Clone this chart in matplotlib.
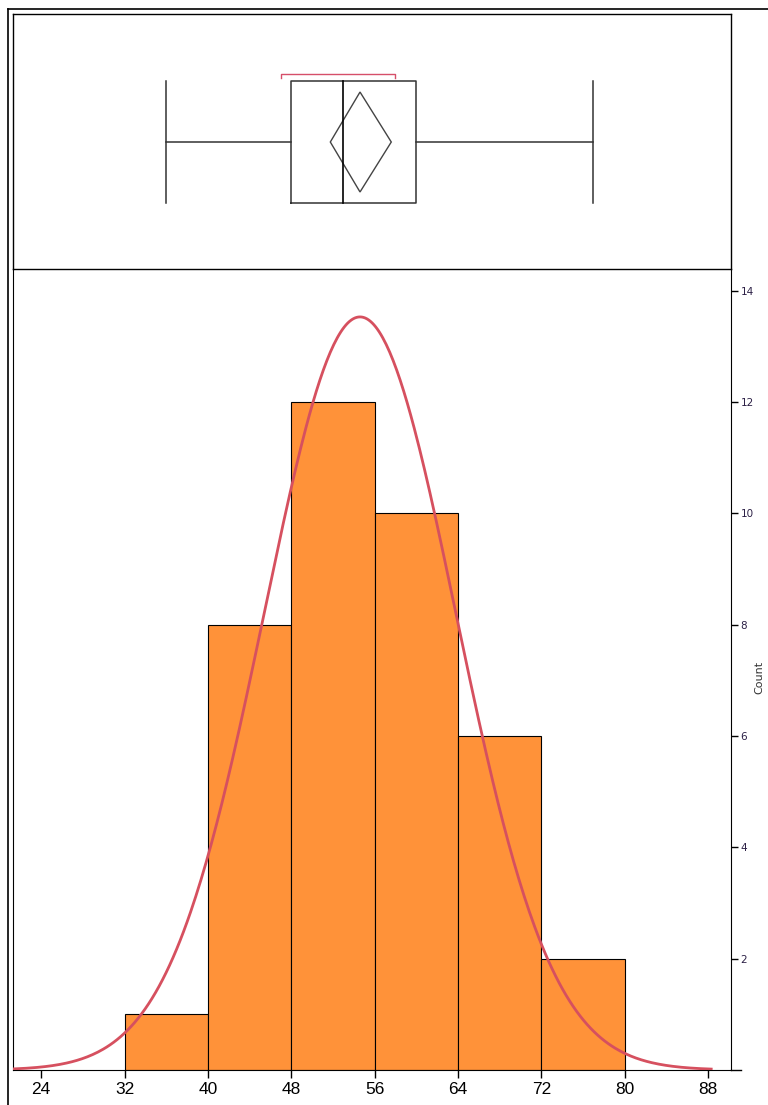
import numpy as np
import matplotlib.pyplot as plt
from matplotlib.lines import Line2D
from matplotlib.patches import Polygon

# histogram of the sample
bin_edges = [32, 40, 48, 56, 64, 72, 80]
counts = [1, 8, 12, 10, 6, 2]
n_obs = sum(counts)

# summary statistics
mean, sd = 54.6, 9.2
whisker_lo, q1, median, q3, whisker_hi = 36, 48, 53, 60, 77
ci_lo, ci_hi = 51.75, 57.6
short_lo, short_hi = 47, 58

xticks = [24, 32, 40, 48, 56, 64, 72, 80, 88]
yticks = [2, 4, 6, 8, 10, 12, 14]
xlim = (21.3, 90.2)

W, H = 768, 1105
fig = plt.figure(figsize=(W / 100, H / 100), dpi=100)

def box(x0, y0, x1, y1):
    return [x0 / W, 1 - y1 / H, (x1 - x0) / W, (y1 - y0) / H]

# outer frame lines
fig.add_artist(Line2D([8 / W, 1], [1 - 9 / H, 1 - 9 / H], color='black', lw=1.2))
fig.add_artist(Line2D([8 / W, 8 / W], [0, 1 - 9 / H], color='black', lw=1.2))

# ---- histogram panel ----
ax = fig.add_axes(box(13, 269, 731, 1070))
ax.patch.set_visible(False)
ax.bar(bin_edges[:-1], counts, width=np.diff(bin_edges), align='edge',
       color='#ff9239', edgecolor='black', linewidth=0.8, zorder=2)

xs = np.linspace(21.4, 88.3, 400)
ys = n_obs * 8 / (sd * np.sqrt(2 * np.pi)) * np.exp(-0.5 * ((xs - mean) / sd) ** 2)
ax.plot(xs, ys, color='#d6505f', lw=2.0, zorder=3)

ax.set_xlim(*xlim)
ax.set_ylim(0, 14.39)
ax.spines['top'].set_visible(False)
ax.yaxis.tick_right()
ax.set_yticks(yticks)
ax.set_xticks(xticks)
ax.tick_params(axis='y', length=5, width=1, labelsize=7.5, labelcolor='#2b1f45', pad=2)
ax.tick_params(axis='x', length=6, width=1, labelsize=12.5, pad=3)
for lab in ax.get_xticklabels():
    lab.set_family(['Liberation Sans', 'DejaVu Sans'])
fig.text(759 / W, 1 - 677 / H, 'Count', rotation=90, fontsize=8, color='#333333',
         ha='center', va='center')

# axis line runs a little past the right spine
fig.add_artist(Line2D([731 / W, 741 / W], [1 - 1070 / H, 1 - 1070 / H], color='black', lw=1.0))

# ---- box plot panel ----
axb = fig.add_axes(box(13, 14, 731, 269))
axb.set_xlim(*xlim)
axb.set_ylim(0, 1)
axb.set_xticks([])
axb.set_yticks([])
for s in axb.spines.values():
    s.set_linewidth(1.0)

yb0, yb1, ymid = 0.259, 0.737, 0.498
lc = '#333333'
axb.plot([q1, q3, q3, q1, q1], [yb0, yb0, yb1, yb1, yb0], color=lc, lw=1.1)
axb.plot([median, median], [yb0, yb1], color='black', lw=1.2)
axb.plot([whisker_lo, q1], [ymid, ymid], color=lc, lw=1.1)
axb.plot([q3, whisker_hi], [ymid, ymid], color=lc, lw=1.1)
axb.plot([whisker_lo, whisker_lo], [yb0, yb1], color=lc, lw=1.1)
axb.plot([whisker_hi, whisker_hi], [yb0, yb1], color=lc, lw=1.1)
diamond = Polygon([[ci_lo, ymid], [mean, 0.694], [ci_hi, ymid], [mean, 0.302]],
                  closed=True, fill=False, edgecolor='#444444', lw=1.0)
axb.add_patch(diamond)
# shortest half bracket
yr = 0.765
axb.plot([short_lo, short_lo, short_hi, short_hi], [yr - 0.015, yr, yr, yr - 0.015],
         color='#d64f6a', lw=1.0)

fig.savefig('out.png', dpi=100)
